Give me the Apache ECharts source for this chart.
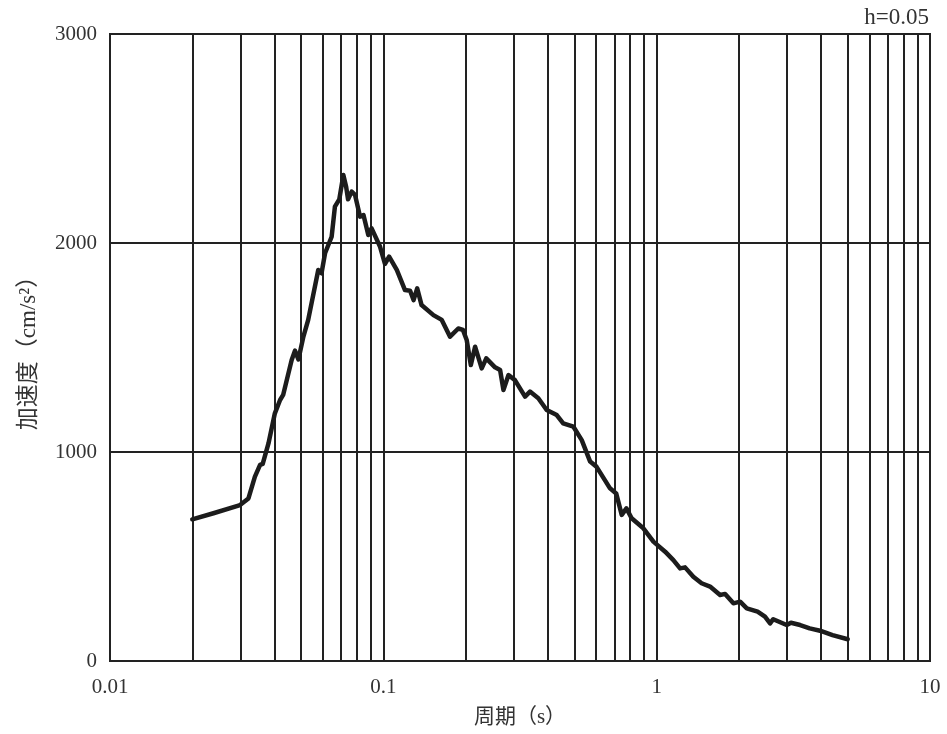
<!DOCTYPE html>
<html>
<head>
<meta charset="utf-8">
<script src="https://cdn.jsdelivr.net/npm/echarts@6/dist/echarts.min.js"></script>
<style>
html,body{margin:0;padding:0;background:#fff;}
#main{width:947px;height:734px;}
</style>
</head>
<body>
<div id="main"></div>
<script>
// Period (s)
var periods = [0.02, 0.0239, 0.0299, 0.0321, 0.0339, 0.0354, 0.0362, 0.038, 0.0401, 0.0419, 0.043,
  0.0462, 0.0475, 0.0489, 0.051, 0.0531, 0.0578, 0.0594, 0.0612, 0.0647, 0.0665, 0.069, 0.0714,
  0.0731, 0.0743, 0.0766, 0.0788, 0.0822, 0.0846, 0.0881, 0.0906, 0.0973, 0.1014, 0.105, 0.112,
  0.12, 0.1253, 0.129, 0.133, 0.138, 0.1525, 0.1636, 0.1754, 0.188, 0.1956, 0.2018, 0.209, 0.2166,
  0.229, 0.238, 0.2563, 0.2675, 0.275, 0.287, 0.303, 0.33, 0.344, 0.369, 0.396, 0.431, 0.455,
  0.496, 0.532, 0.571, 0.602, 0.675, 0.711, 0.745, 0.775, 0.81, 0.894, 0.973, 1.074, 1.151,
  1.218, 1.27, 1.362, 1.46, 1.568, 1.706, 1.78, 1.909, 2.02, 2.137, 2.34, 2.49, 2.6, 2.67, 2.99,
  3.1, 3.35, 3.63, 3.96, 4.4, 5.0];
// Acceleration (cm/s^2)
var accel = [678, 707, 746, 778, 882, 938, 943, 1041, 1185, 1249, 1273,
  1440, 1485, 1443, 1552, 1632, 1871, 1855, 1951, 2030, 2174, 2209, 2325,
  2269, 2209, 2246, 2230, 2126, 2134, 2038, 2070, 1982, 1900, 1935, 1871,
  1775, 1772, 1727, 1783, 1703, 1655, 1632, 1552, 1591, 1584, 1536, 1416, 1504,
  1400, 1448, 1405, 1392, 1297, 1368, 1344, 1265, 1289, 1257, 1201, 1177, 1137,
  1121, 1057, 954, 930, 826, 802, 699, 730, 683, 635, 571, 523, 483,
  443, 448, 403, 372, 356, 316, 321, 276, 284, 252, 236, 212, 180, 200, 172,
  183, 172, 156, 145, 124, 104];
// Vertical grid lines (period values)
var gridPeriods = [0.02, 0.03, 0.04, 0.05, 0.06, 0.07, 0.08, 0.09, 0.1,
  0.2, 0.3, 0.4, 0.5, 0.6, 0.7, 0.8, 0.9, 1,
  2, 3, 4, 5, 6, 7, 8, 9];
var xTickLabels = ['0.01', '0.1', '1', '10'];
var yTicks = [0, 1000, 2000, 3000];
var xName = '周期（s）';
var yName = '加速度（cm/s²）';
var note = 'h=0.05';

var FONT = "'Liberation Serif', 'Noto Sans CJK SC', serif";
var seriesData = periods.map(function (p, i) { return [p, accel[i]]; });

var chart = echarts.init(document.getElementById('main'), null, {renderer: 'canvas'});
chart.setOption({
  animation: false,
  backgroundColor: '#fff',
  grid: {left: 110, right: 17, top: 34, bottom: 73, show: true, borderColor: '#222', borderWidth: 2, backgroundColor: 'transparent'},
  xAxis: {
    type: 'log', logBase: 10, min: 0.01, max: 10,
    name: xName, nameLocation: 'middle', nameGap: 46,
    nameTextStyle: {fontFamily: FONT, fontSize: 21, color: '#333'},
    axisLine: {show: true, lineStyle: {color: '#222', width: 2}},
    axisTick: {show: false},
    splitLine: {show: false},
    minorTick: {show: false},
    axisLabel: {
      fontFamily: FONT, fontSize: 21, color: '#333', margin: 16,
      formatter: function (v) {
        var e = Math.round(Math.log10(v));
        return xTickLabels[e + 2];
      }
    }
  },
  yAxis: {
    type: 'value', min: yTicks[0], max: yTicks[yTicks.length - 1], interval: 1000,
    name: yName, nameLocation: 'middle', nameGap: 70, nameRotate: 90,
    nameTextStyle: {fontFamily: FONT, fontSize: 23, color: '#333'},
    axisLine: {show: true, lineStyle: {color: '#222', width: 2}},
    axisTick: {show: false},
    splitLine: {show: true, lineStyle: {color: '#222', width: 2}},
    axisLabel: {
      fontFamily: FONT, fontSize: 21, color: '#333', margin: 13,
      formatter: function (v) { return String(v); }
    }
  },
  graphic: [{
    type: 'text', right: 18, top: 6,
    style: {text: note, font: "23px 'Liberation Serif', serif", fill: '#333'}
  }],
  series: [
    {
      type: 'line', data: [], z: 1, silent: true,
      markLine: {
        silent: true, symbol: ['none', 'none'], z: 1,
        label: {show: false},
        lineStyle: {type: 'solid', color: '#222', width: 2},
        emphasis: {disabled: true},
        data: gridPeriods.map(function (p) { return {xAxis: p}; })
      }
    },
    {
      type: 'line', data: seriesData, z: 10,
      showSymbol: false, symbol: 'none', smooth: false,
      lineStyle: {color: '#1c1c1c', width: 4.5, join: 'round', cap: 'round'}
    }
  ]
});
</script>
</body>
</html>
